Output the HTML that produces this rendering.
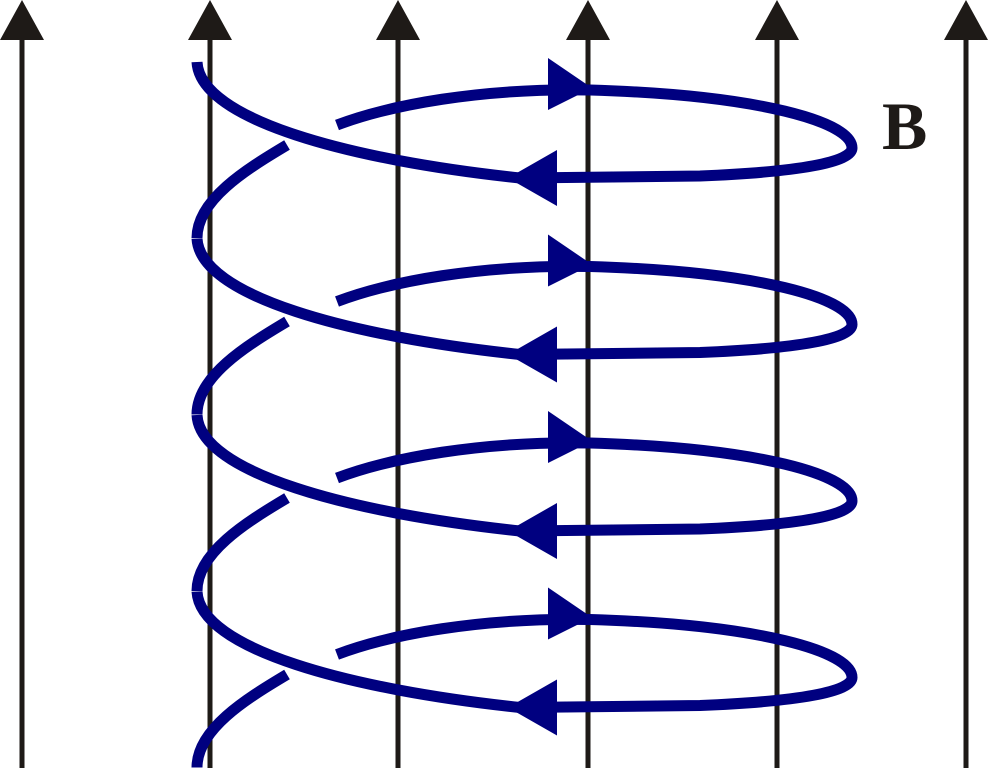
<!DOCTYPE html>
<html><head><style>
html,body{margin:0;padding:0;background:#fff;width:989px;height:768px;overflow:hidden}
</style></head><body>
<svg width="989" height="768" viewBox="0 0 989 768" xmlns="http://www.w3.org/2000/svg">
<defs>
<g id="per">
<path d="M197,62 C200,120 350,160 520,178 L700,176 C800,172 852,162 852,148 C852,122 760,95 590,90 C480,88 390,105 337,125" fill="none" stroke="#000080" stroke-width="11"/>
<path d="M287,145 C245,170 197,200 197,238" fill="none" stroke="#000080" stroke-width="11"/>
<polygon points="548,58 548,110 592,88" fill="#000080"/>
<polygon points="557,150 557,206 508,178" fill="#000080"/>
</g>
</defs>
<g stroke="#1e1a17" stroke-width="5">
<line x1="22" y1="30" x2="22" y2="768"/>
<line x1="210" y1="30" x2="210" y2="768"/>
<line x1="398" y1="30" x2="398" y2="768"/>
<line x1="588" y1="30" x2="588" y2="768"/>
<line x1="777" y1="30" x2="777" y2="768"/>
<line x1="966" y1="30" x2="966" y2="768"/>
</g>
<g fill="#1e1a17">
<polygon points="22,0 0,40 44,40"/>
<polygon points="210,0 188,40 232,40"/>
<polygon points="398,0 376,40 420,40"/>
<polygon points="588,0 566,40 610,40"/>
<polygon points="777,0 755,40 799,40"/>
<polygon points="966,0 944,40 988,40"/>
</g>
<use href="#per"/>
<use href="#per" transform="translate(0,176.5)"/>
<use href="#per" transform="translate(0,353)"/>
<use href="#per" transform="translate(0,529.5)"/>
<text x="882" y="149" font-family="Liberation Serif, serif" font-weight="bold" font-size="68" fill="#1e1a17">B</text>
</svg>
</body></html>
